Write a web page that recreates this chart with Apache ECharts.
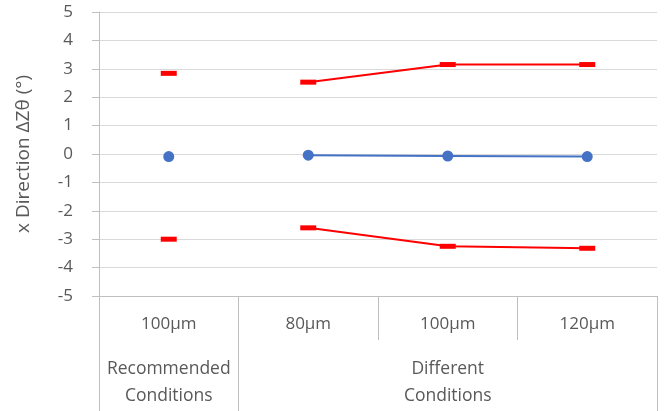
<!DOCTYPE html>
<html>
<head>
<meta charset="utf-8">
<script src="https://cdn.jsdelivr.net/npm/echarts@6/dist/echarts.min.js"></script>
<style>html,body{margin:0;padding:0;background:#fff}#c{width:664px;height:411px}</style>
</head>
<body>
<div id="c"></div>
<script>
var categories = ['100μm', '80μm', '100μm', '120μm'];
var groupLabels = ['Recommended\nConditions', '', 'Different\nConditions', ''];
var recMax = [2.84];
var recMean = [-0.09];
var recMin = [-3.0];
var diffMax = [2.53, 3.15, 3.15];
var diffMean = [-0.04, -0.07, -0.09];
var diffMin = [-2.6, -3.25, -3.32];
var yTitle = 'x Direction ΔZθ (°)';

var font = '"Open Sans", "Noto Sans", sans-serif';
var txt = '#595959';
var axisCol = '#bfbfbf';

function recData(a) { return [a[0], '-', '-', '-']; }
function diffData(a) { return ['-'].concat(a); }

function meanSeries(data) {
  return { type: 'line', data: data, xAxisIndex: 0, symbol: 'circle', symbolSize: 11,
    showAllSymbol: true, itemStyle: { color: '#4472c4' }, lineStyle: { color: '#4472c4', width: 2 }, z: 3, animation: false };
}
function rangeSeries(data) {
  return { type: 'line', data: data, xAxisIndex: 0, symbol: 'rect', symbolSize: [16, 5],
    showAllSymbol: true, itemStyle: { color: '#ff0000' }, lineStyle: { color: '#ff0000', width: 2 }, z: 2, animation: false };
}

var chart = echarts.init(document.getElementById('c'));
chart.setOption({
  animation: false,
  backgroundColor: '#fff',
  grid: { left: 99, right: 7, top: 12, bottom: 115, containLabel: false },
  xAxis: [{
    type: 'category', data: categories, position: 'bottom', boundaryGap: true,
    axisLine: { show: true, onZero: false, lineStyle: { color: axisCol, width: 1 } },
    axisTick: { show: true, length: 44, lineStyle: { color: axisCol } },
    axisLabel: { interval: 0, margin: 20, fontSize: 17, color: txt, fontFamily: font },
    splitLine: { show: false }
  }, {
    type: 'category', data: groupLabels, position: 'bottom', offset: 44, boundaryGap: true,
    axisLine: { show: false, onZero: false },
    axisTick: { show: true, length: 71, lineStyle: { color: axisCol },
      interval: function (i) { return i === 0 || i === 1; } },
    axisLabel: { interval: 0, margin: 16, fontSize: 17.5, lineHeight: 27, color: txt, fontFamily: font },
    splitLine: { show: false }
  }],
  yAxis: {
    type: 'value', min: -5, max: 5, interval: 1,
    name: yTitle, nameLocation: 'middle', nameGap: 66, nameRotate: 90,
    nameTextStyle: { fontSize: 19, color: txt, fontFamily: font },
    axisLine: { show: true, lineStyle: { color: axisCol } },
    axisTick: { show: true, length: 7, lineStyle: { color: axisCol } },
    axisLabel: { fontSize: 17, color: txt, fontFamily: font, margin: 26 },
    splitLine: { lineStyle: { color: '#d9d9d9' } }
  },
  series: [
    rangeSeries(recData(recMax)),
    rangeSeries(recData(recMin)),
    meanSeries(recData(recMean)),
    rangeSeries(diffData(diffMax)),
    rangeSeries(diffData(diffMin)),
    meanSeries(diffData(diffMean))
  ]
});
</script>
</body>
</html>
